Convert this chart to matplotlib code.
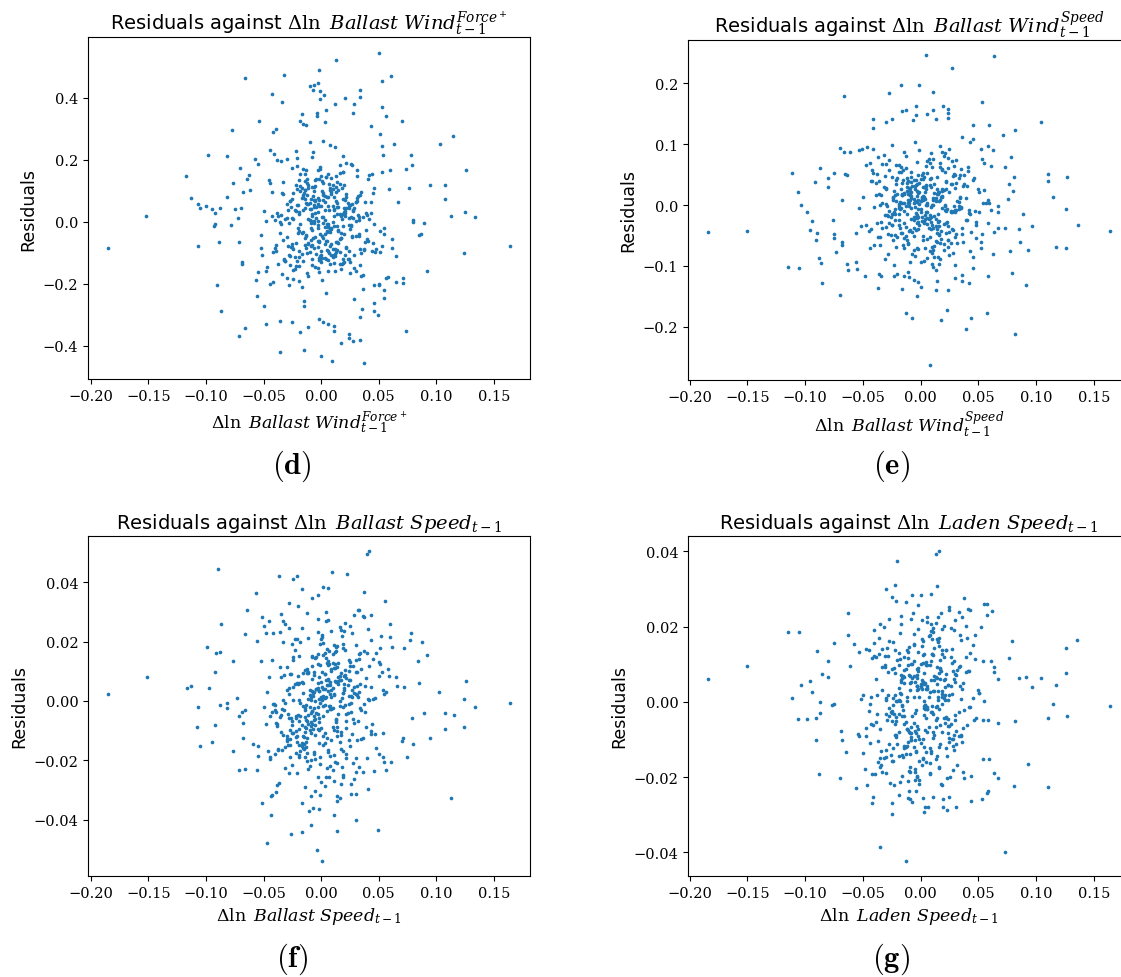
import matplotlib
matplotlib.use("Agg")
import matplotlib.pyplot as plt

# shared x positions for the middle of each cloud
x_core = [
    -0.003, 0.012, -0.018, 0.027, -0.007, 0.001, -0.031, 0.019, 0.006, -0.012,
    0.034, -0.022, 0.009, -0.001, 0.015, -0.040, 0.004, -0.015, 0.023, -0.009,
    0.041, -0.026, 0.002, 0.011, -0.005, 0.030, -0.019, 0.007, -0.035, 0.017,
    -0.011, 0.025, -0.002, 0.046, -0.028, 0.013, -0.008, 0.003, -0.044, 0.021,
    0.008, -0.016, 0.036, -0.004, 0.014, -0.024, 0.000, 0.029, -0.013, 0.005,
    -0.037, 0.018, -0.006, 0.039, -0.021, 0.010, -0.010, 0.024, -0.030, 0.002,
    0.051, -0.014, 0.016, -0.003, -0.048, 0.031, -0.017, 0.006, 0.020, -0.008,
    -0.025, 0.043, -0.001, 0.012, -0.033, 0.009, -0.012, 0.026, -0.005, 0.037,
    -0.020, 0.003, -0.042, 0.015, 0.000, -0.027, 0.022, -0.009, 0.033, -0.015,
    0.007, -0.052, 0.019, -0.004, 0.028, -0.023, 0.011, -0.007, 0.048, -0.018,
    0.004, -0.032, 0.014, -0.011, 0.035, -0.002, 0.021, -0.038, 0.008, -0.014,
    0.025, -0.006, 0.055, -0.029, 0.013, -0.001, 0.017, -0.045, 0.005, -0.019,
    0.032, -0.010, 0.001, 0.040, -0.024, 0.010, -0.036, 0.023, -0.003, 0.016,
    -0.016, 0.030, -0.008, 0.045, -0.026, 0.006, -0.012, 0.019, -0.056, 0.002,
    0.027, -0.021, 0.012, -0.005, 0.038, -0.034, 0.009, -0.013, 0.024, -0.002,
    -0.041, 0.015, -0.009, 0.050, -0.018, 0.004, 0.031, -0.028, 0.011, -0.006,
    0.020, -0.039, 0.007, -0.015, 0.042, -0.001, 0.018, -0.023, 0.026, -0.011,
    0.003, -0.047, 0.014, -0.004, 0.034, -0.020, 0.008, -0.031, 0.022, -0.007,
    0.058, -0.017, 0.001, 0.029, -0.025, 0.013, -0.010, 0.036, -0.043, 0.005,
    -0.014, 0.017, -0.003, 0.044, -0.030, 0.010, -0.008, 0.021, -0.019, 0.000,
    0.033, -0.035, 0.016, -0.005, 0.053, -0.022, 0.006, -0.012, 0.025, -0.050,
    0.009, -0.002,
]
# second set of shared x positions for the dense centre
x_core2 = [
    0.006, -0.017, 0.028, -0.003, 0.013, -0.031, 0.021, -0.009, 0.002, 0.037,
    -0.024, 0.010, -0.013, 0.031, -0.001, 0.016, -0.039, 0.004, -0.019, 0.024,
    0.000, -0.006, 0.034, -0.027, 0.011, -0.014, 0.019, -0.035, 0.003, 0.043,
    -0.008, 0.022, -0.021, 0.008, -0.003, 0.029, -0.016, 0.014, -0.030, 0.001,
    0.035, -0.011, 0.017, -0.024, 0.006, -0.038, 0.026, -0.005, 0.012, -0.018,
    0.040, -0.010, 0.003, -0.028, 0.020, -0.002, 0.032, -0.014, 0.009, -0.022,
    0.015, -0.044, 0.005, 0.027, -0.006, 0.019, -0.025, 0.001, 0.036, -0.012,
    0.008, -0.019, 0.024, -0.033, 0.014, -0.004, 0.047, -0.016, 0.003, -0.009,
    0.030, -0.022, 0.011, -0.002, 0.018, -0.040, 0.022, -0.008, 0.006, -0.027,
    0.042, -0.014, 0.002, 0.021, -0.019, 0.013, -0.032, 0.028, -0.003, 0.009,
    -0.011, 0.033, -0.024, 0.005, -0.017, 0.016, -0.006, 0.025, -0.036, 0.000,
    0.019, -0.013, 0.039, -0.021, 0.008, -0.003, 0.014, -0.029, 0.031, -0.009,
    0.003, -0.042, 0.022, -0.016, 0.011, -0.002, 0.027, -0.022, 0.017, -0.008,
    -0.030, 0.006, 0.045, -0.012, 0.020, -0.005, 0.013, -0.025, 0.002, 0.035,
    -0.017, 0.009, -0.006, 0.024, -0.033, 0.016, -0.011, 0.004, 0.030, -0.020,
    0.001, -0.014, 0.019, -0.037, 0.010, 0.026, -0.003, 0.014, -0.023, 0.038,
    -0.009, 0.002, -0.019, 0.029, -0.005, 0.017, -0.030, 0.008, 0.022, -0.013,
    0.051, -0.002, 0.011, -0.025, 0.003, -0.016, 0.033, -0.008, 0.020, -0.034,
    0.006, -0.021, 0.016, -0.011, 0.041, -0.003, 0.012, -0.027, 0.005, 0.024,
    -0.014, 0.010, -0.043, 0.019, -0.006, 0.030, -0.019, 0.002, -0.010, 0.015,
]

# panel (d): Ballast Wind Force+
d_core_y = [
    0.031, -0.112, 0.154, -0.046, 0.082, -0.187, 0.009, 0.213, -0.094, 0.058,
    -0.141, 0.117, -0.021, 0.176, -0.068, 0.004, -0.229, 0.093, -0.119, 0.042,
    0.139, -0.083, 0.261, -0.014, 0.066, -0.158, 0.024, -0.101, 0.195, -0.052,
    0.108, -0.129, 0.071, -0.006, -0.205, 0.147, -0.075, 0.037, 0.232, -0.108,
    -0.033, 0.086, -0.171, 0.012, 0.129, -0.089, 0.051, -0.248, 0.168, -0.061,
    0.019, -0.136, 0.098, -0.027, 0.205, -0.115, 0.061, -0.011, -0.182, 0.124,
    -0.097, 0.044, 0.183, -0.148, 0.002, 0.076, -0.212, 0.152, -0.039, 0.113,
    -0.071, 0.027, -0.125, 0.241, -0.058, 0.089, -0.164, 0.014, 0.135, -0.091,
    0.053, -0.018, -0.196, 0.102, -0.131, 0.067, 0.188, -0.079, 0.006, -0.271,
    0.121, -0.044, 0.161, -0.105, 0.034, -0.152, 0.079, 0.224, -0.087, -0.009,
    0.144, -0.119, 0.048, -0.176, 0.095, -0.064, 0.017, 0.198, -0.137, 0.072,
    -0.024, 0.112, -0.219, 0.039, -0.099, 0.171, -0.054, 0.133, -0.008, -0.143,
    0.083, 0.256, -0.116, 0.022, -0.185, 0.106, -0.036, 0.059, -0.082, 0.157,
    -0.126, 0.001, 0.209, -0.069, 0.046, -0.159, 0.126, -0.015, -0.238, 0.091,
    -0.048, 0.178, -0.103, 0.029, 0.063, -0.168, 0.141, -0.085, 0.011, -0.123,
    0.219, -0.031, 0.074, -0.201, 0.099, -0.062, 0.165, -0.004, -0.134, 0.054,
    0.118, -0.096, 0.036, -0.257, 0.149, -0.041, 0.008, -0.114, 0.187, -0.073,
    0.064, -0.146, 0.026, 0.137, -0.088, -0.019, 0.246, -0.127, 0.081, -0.052,
    -0.178, 0.109, 0.015, -0.109, 0.172, -0.066, 0.041, -0.216, 0.096, -0.029,
    0.131, -0.154, 0.057, -0.093, 0.202, -0.002, -0.121, 0.069, -0.191, 0.148,
    -0.047, 0.021, -0.138, 0.116, -0.077, 0.229, -0.013, 0.087, -0.165, 0.033,
    -0.106, 0.052,
]
d_core2_y = [
    0.052, -0.104, 0.013, -0.061, 0.097, -0.128, 0.034, -0.019, 0.071, -0.087,
    0.008, 0.118, -0.043, 0.066, -0.112, 0.025, -0.075, 0.143, -0.031, 0.049,
    -0.096, 0.003, 0.086, -0.139, 0.041, -0.052, 0.159, -0.008, -0.117, 0.062,
    0.019, -0.083, 0.106, -0.024, 0.077, -0.148, 0.038, -0.066, 0.011, 0.131,
    -0.101, 0.056, -0.037, 0.092, -0.124, 0.028, -0.013, 0.069, -0.089, 0.114,
    -0.056, 0.006, 0.083, -0.107, 0.045, -0.162, 0.022, 0.101, -0.071, 0.035,
    -0.026, 0.125, -0.092, 0.058, -0.004, -0.133, 0.074, -0.047, 0.016, 0.137,
    -0.079, 0.031, -0.119, 0.089, -0.015, 0.047, -0.098, 0.171, -0.039, 0.002,
    0.064, -0.143, 0.018, -0.063, 0.109, -0.084, 0.043, -0.028, 0.081, -0.111,
    0.009, 0.153, -0.053, 0.027, -0.093, 0.068, -0.122, 0.037, -0.011, 0.095,
    -0.068, 0.014, -0.155, 0.079, -0.035, 0.121, -0.086, 0.054, -0.002, -0.109,
    0.072, -0.045, 0.029, -0.127, 0.102, -0.021, 0.061, -0.078, 0.146, -0.058,
    0.004, -0.098, 0.088, -0.033, 0.039, -0.116, 0.183, -0.069, 0.021, -0.141,
    0.057, -0.007, 0.093, -0.102, 0.032, -0.049, 0.112, -0.081, 0.015, -0.176,
    0.076, -0.023, 0.048, -0.094, 0.129, -0.057, 0.007, -0.121, 0.063, -0.038,
    0.099, -0.074, 0.024, -0.135, 0.051, -0.012, 0.166, -0.091, 0.036, -0.064,
    -0.003, 0.085, -0.113, 0.043, -0.147, 0.018, -0.051, 0.107, -0.084, 0.059,
    -0.029, 0.139, -0.106, 0.011, -0.072, 0.078, -0.041, 0.026, -0.131, 0.091,
    -0.017, 0.055, -0.097, 0.118, -0.062, 0.001, -0.158, 0.067, -0.034, 0.044,
    0.103, -0.088, 0.017, -0.119, 0.071, -0.046, 0.133, -0.005, -0.099, 0.046,
]
d_out_x = [
    -0.185, -0.152, 0.164, -0.117, -0.113, -0.107, -0.107, -0.105, -0.100, -0.098,
    -0.095, -0.092, -0.092, -0.093, -0.089, -0.090, -0.087, -0.088, -0.082, -0.0815,
    -0.078, -0.077, -0.0766, -0.075, -0.072, -0.0716, -0.071, -0.070, -0.0696, -0.069,
    -0.069, -0.068, -0.066, -0.066, -0.0647, -0.0626, -0.062, -0.0577, -0.0566, -0.055,
    -0.055, -0.054, -0.052, -0.051, -0.050, -0.048, -0.048, -0.044, -0.0426, -0.042,
    -0.039, -0.036, -0.0357, -0.034, -0.032, -0.025, -0.018, -0.0186, -0.0165, -0.0157,
    -0.015, -0.0128, -0.011, -0.010, -0.0067, -0.0064, -0.0035, -0.0035, -0.0023, -0.002,
    -0.002, -0.0006, -0.0006, 0.000, 0.0017, 0.0029, 0.003, 0.0046, 0.006, 0.0099,
    0.011, 0.0116, 0.012, 0.0128, 0.017, 0.021, 0.024, 0.024, 0.0276, 0.028,
    0.029, 0.034, 0.034, 0.034, 0.034, 0.0357, 0.037, 0.043, 0.044, 0.046,
    0.046, 0.046, 0.046, 0.049, 0.050, 0.0505, 0.0516, 0.0525, 0.053, 0.053,
    0.053, 0.054, 0.055, 0.055, 0.055, 0.056, 0.056, 0.0586, 0.0595, 0.0606,
    0.062, 0.062, 0.063, 0.065, 0.065, 0.067, 0.070, 0.071, 0.071, 0.0737,
    0.074, 0.076, 0.0777, 0.079, 0.080, 0.080, 0.085, 0.087, 0.089, 0.092,
    0.095, 0.103, 0.108, 0.108, 0.113, 0.115, 0.124, 0.125, 0.126, 0.134,
]
d_out_y = [
    -0.085, 0.018, -0.079, 0.147, 0.077, 0.058, -0.080, 0.044, 0.049, 0.214,
    0.041, 0.028, -0.008, -0.015, -0.065, -0.204, -0.287, 0.044, 0.212, 0.081,
    -0.011, 0.294, 0.124, 0.041, 0.013, -0.066, -0.369, 0.173, 0.045, -0.129,
    -0.136, 0.096, 0.462, -0.342, 0.137, 0.150, 0.102, 0.203, -0.188, 0.185,
    -0.162, 0.325, -0.086, -0.107, -0.273, -0.158, -0.330, -0.200, 0.411, 0.289,
    0.297, -0.321, -0.420, 0.387, 0.473, -0.324, -0.357, 0.324, 0.346, 0.315,
    -0.414, 0.312, -0.338, 0.437, 0.424, 0.440, 0.351, 0.340, 0.446, 0.489,
    -0.314, 0.421, 0.395, -0.434, -0.324, 0.408, 0.322, 0.361, -0.331, -0.449,
    -0.353, -0.335, 0.379, 0.521, -0.392, 0.397, -0.374, -0.363, 0.351, -0.385,
    0.378, 0.424, 0.401, -0.380, -0.308, -0.283, -0.457, 0.308, 0.154, 0.110,
    -0.204, -0.262, -0.287, -0.300, -0.204, 0.545, 0.284, 0.159, 0.453, 0.369,
    0.244, 0.216, -0.020, -0.039, -0.245, 0.340, -0.180, 0.106, 0.165, 0.468,
    -0.084, -0.055, 0.249, -0.111, -0.196, 0.063, 0.323, -0.182, -0.197, -0.353,
    0.170, 0.107, 0.215, 0.184, 0.004, -0.001, -0.042, -0.040, -0.005, -0.160,
    0.119, 0.250, 0.117, 0.072, 0.018, 0.275, -0.101, 0.031, 0.166, 0.014,
]

# panel (e): Ballast Wind Speed
e_core_y = [
    -0.021, 0.034, -0.006, 0.072, -0.044, 0.011, -0.089, 0.027, 0.003, -0.058,
    0.049, -0.015, 0.086, -0.033, 0.019, -0.003, -0.071, 0.041, -0.027, 0.008,
    0.063, -0.049, 0.014, -0.102, 0.031, -0.011, 0.055, -0.038, 0.001, 0.097,
    -0.064, 0.022, -0.019, 0.045, -0.081, 0.006, 0.038, -0.029, 0.069, -0.008,
    -0.052, 0.017, 0.112, -0.041, 0.026, -0.014, -0.094, 0.051, -0.002, 0.033,
    0.079, -0.056, 0.010, -0.024, 0.042, -0.069, 0.004, 0.061, -0.036, 0.015,
    -0.012, 0.088, -0.047, 0.024, -0.117, 0.036, -0.005, 0.053, -0.031, 0.012,
    0.046, -0.076, 0.002, -0.018, 0.067, -0.040, 0.029, -0.009, 0.104, -0.061,
    0.019, -0.026, 0.039, -0.085, 0.007, 0.057, -0.045, 0.016, -0.001, -0.066,
    0.075, -0.034, 0.023, -0.013, 0.048, -0.099, 0.011, 0.032, -0.054, 0.005,
    -0.023, 0.083, -0.039, 0.018, 0.060, -0.072, 0.001, -0.030, 0.043, -0.010,
    0.092, -0.050, 0.025, -0.017, -0.107, 0.037, 0.009, -0.043, 0.064, -0.004,
    -0.062, 0.028, 0.050, -0.025, 0.013, -0.078, 0.040, -0.007, 0.071, -0.035,
    0.003, -0.052, 0.021, 0.108, -0.020, -0.087, 0.044, 0.014, -0.046, 0.030,
    -0.011, 0.066, -0.067, 0.006, 0.035, -0.028, -0.003, 0.081, -0.057, 0.020,
    0.052, -0.015, -0.093, 0.027, -0.037, 0.010, 0.074, -0.048, 0.000, 0.041,
    -0.074, 0.017, -0.022, 0.058, -0.008, 0.090, -0.042, 0.024, -0.063, 0.004,
    0.047, -0.032, -0.125, 0.033, 0.012, -0.053, 0.069, -0.016, 0.026, -0.080,
    0.008, 0.055, -0.026, -0.002, 0.099, -0.059, 0.019, -0.038, 0.039, -0.012,
    -0.070, 0.062, 0.005, -0.044, 0.028, -0.096, 0.015, 0.085, -0.033, -0.006,
    0.045, -0.065, 0.022, -0.019, 0.076, -0.049, 0.001, 0.036, -0.082, 0.013,
    -0.028, 0.050,
]
e_core2_y = [
    -0.012, 0.027, -0.041, 0.005, -0.023, 0.048, -0.002, 0.016, -0.058, 0.031,
    0.009, -0.033, 0.061, -0.008, 0.021, -0.049, 0.037, -0.016, 0.002, -0.069,
    0.043, -0.025, 0.013, 0.074, -0.037, 0.019, -0.005, -0.052, 0.029, -0.014,
    0.055, -0.029, 0.006, -0.076, 0.034, -0.009, 0.018, -0.045, 0.067, -0.020,
    -0.003, 0.039, -0.063, 0.011, -0.031, 0.051, -0.011, 0.026, -0.085, 0.004,
    0.032, -0.043, 0.014, -0.018, 0.081, -0.027, 0.007, -0.054, 0.045, -0.006,
    0.022, -0.071, 0.001, 0.035, -0.038, 0.058, -0.015, 0.010, -0.047, 0.024,
    -0.021, 0.066, -0.034, 0.003, -0.060, 0.041, -0.010, 0.017, -0.092, 0.028,
    0.049, -0.024, 0.008, -0.039, 0.013, -0.066, 0.038, -0.004, 0.072, -0.030,
    -0.013, 0.020, -0.050, 0.054, -0.001, -0.035, 0.030, -0.079, 0.015, -0.019,
    0.040, -0.007, -0.057, 0.026, 0.063, -0.026, 0.004, -0.044, 0.019, -0.011,
    0.088, -0.036, 0.012, -0.068, 0.033, -0.017, 0.046, -0.002, -0.048, 0.023,
    -0.028, 0.057, -0.009, 0.036, -0.074, 0.009, -0.040, 0.016, 0.069, -0.022,
    0.002, -0.056, 0.042, -0.014, 0.025, -0.083, 0.011, -0.032, 0.052, -0.005,
    -0.046, 0.030, -0.019, 0.078, -0.037, 0.006, -0.062, 0.021, -0.008, 0.044,
    0.014, -0.029, 0.060, -0.053, 0.001, 0.034, -0.070, 0.018, -0.012, 0.050,
    -0.041, 0.009, -0.024, 0.065, -0.003, -0.088, 0.027, -0.016, 0.039, -0.051,
    0.022, -0.006, 0.076, -0.033, 0.012, -0.045, 0.005, 0.047, -0.064, 0.017,
    -0.021, 0.035, -0.097, 0.008, 0.056, -0.030, 0.020, -0.010, 0.031, -0.058,
    0.003, 0.062, -0.039, 0.015, -0.073, 0.028, -0.015, 0.043, -0.002, -0.027,
]
e_out_x = [
    -0.184, -0.150, -0.115, -0.105, -0.111, -0.106, -0.1035, -0.098, -0.0937, -0.096,
    -0.0908, -0.0896, -0.088, -0.086, -0.0853, -0.0867, -0.091, -0.080, -0.080, -0.075,
    -0.076, -0.075, -0.075, -0.0696, -0.073, -0.068, -0.0676, -0.070, -0.0667, -0.061,
    -0.066, -0.0655, -0.064, -0.068, -0.064, -0.063, -0.056, -0.055, -0.037, -0.036,
    -0.0345, -0.027, -0.0165, -0.001, 0.0046, 0.0104, 0.027, 0.064, 0.053, 0.104,
    0.0716, 0.082, 0.059, 0.0455, 0.063, 0.058, 0.052, 0.0786, 0.0734, 0.0806,
    0.080, 0.110, 0.110, 0.127, 0.115, 0.136, 0.164, 0.126, 0.126, 0.117,
    0.0966, 0.089, 0.0856, 0.0934, 0.0864, 0.0777, 0.0795, 0.091, 0.0635, 0.063,
    0.067, 0.073, 0.0757, 0.0763, 0.058, 0.082, 0.0574, 0.044, 0.039, 0.023,
    0.018, -0.0073, -0.0125, 0.008, 0.042, 0.0357, 0.0357, 0.030, 0.030, 0.0455,
    0.0455, 0.052, 0.052, 0.048, 0.048, 0.054, 0.057, 0.059, 0.061, 0.067,
    0.067, 0.058, 0.053, 0.055, 0.061, 0.043, 0.0235, 0.0235, 0.0235, 0.0194,
    -0.004, -0.004, -0.0128, -0.041, -0.041, -0.025, -0.030, -0.046, -0.0415, -0.051,
    -0.053, -0.047, -0.053, -0.023, -0.020, -0.014, -0.011, -0.0096, -0.0055, -0.0026,
    0.0003, -0.0032, -0.0157, 0.013, 0.024, -0.0162, -0.0067, 0.006, 0.0104, 0.0136,
]
e_out_y = [
    -0.0436, -0.0425, -0.101, -0.104, 0.0535, 0.0215, -0.0006, -0.011, -0.0254, -0.041,
    -0.057, -0.046, -0.087, -0.095, -0.1275, 0.0607, 0.0375, 0.044, 0.030, 0.0535,
    -0.025, -0.054, -0.048, -0.148, -0.077, -0.061, -0.066, 0.094, 0.088, 0.087,
    0.179, 0.051, 0.050, 0.008, -0.097, -0.106, -0.093, -0.105, -0.137, -0.113,
    -0.117, 0.184, 0.198, 0.198, 0.246, 0.186, 0.226, 0.245, 0.170, 0.137,
    0.115, 0.123, 0.131, 0.131, 0.091, 0.098, 0.092, 0.079, 0.063, 0.047,
    0.024, 0.051, 0.040, 0.046, 0.014, -0.032, -0.043, -0.006, -0.071, -0.0695,
    -0.034, -0.015, -0.040, -0.073, -0.061, -0.0756, -0.111, -0.131, -0.044, -0.0795,
    -0.0375, -0.0375, 0.010, 0.034, -0.116, -0.211, -0.178, -0.185, -0.204, -0.172,
    -0.189, -0.185, -0.177, -0.262, -0.128, -0.125, -0.115, -0.119, -0.099, -0.103,
    -0.086, -0.071, -0.061, -0.033, -0.027, 0.004, 0.003, 0.004, -0.008, -0.001,
    -0.012, -0.029, -0.047, 0.0695, 0.065, 0.104, 0.158, 0.151, 0.143, 0.163,
    0.163, 0.148, 0.156, 0.141, 0.127, 0.141, 0.137, 0.095, 0.093, 0.093,
    0.090, 0.066, -0.005, -0.116, -0.113, -0.117, -0.110, -0.118, -0.123, -0.126,
    -0.135, -0.150, -0.138, -0.139, -0.140, 0.155, 0.140, 0.149, 0.157, 0.141,
]

# panel (f): Ballast Speed
f_core_y = [
    -0.0043, 0.0112, -0.0168, 0.0036, -0.0094, 0.0221, -0.0007, -0.0257, 0.0074, -0.0125,
    0.0163, -0.0058, 0.0014, -0.0213, 0.0129, -0.0031, 0.0268, -0.0146, 0.0052, -0.0083,
    -0.0296, 0.0091, -0.0018, 0.0187, -0.0114, 0.0025, -0.0182, 0.0123, -0.0047, 0.0239,
    0.0006, -0.0153, 0.0081, -0.0236, 0.0044, -0.0072, 0.0148, -0.0012, -0.0194, 0.0104,
    0.0063, -0.0117, 0.0286, -0.0039, -0.0102, 0.0137, -0.0273, 0.0028, -0.0064, 0.0176,
    -0.0161, 0.0011, 0.0098, -0.0088, 0.0209, -0.0024, -0.0218, 0.0069, -0.0134, 0.0041,
    0.0126, -0.0054, -0.0327, 0.0158, -0.0079, 0.0019, 0.0247, -0.0172, 0.0085, -0.0033,
    -0.0107, 0.0048, 0.0193, -0.0204, 0.0003, 0.0108, -0.0068, -0.0281, 0.0144, -0.0009,
    0.0057, -0.0141, 0.0229, -0.0045, -0.0092, 0.0089, -0.0177, 0.0013, 0.0306, -0.0121,
    -0.0016, 0.0133, -0.0248, 0.0039, -0.0061, 0.0171, -0.0098, 0.0027, -0.0157, 0.0197,
    0.0072, -0.0029, -0.0209, 0.0096, -0.0128, 0.0008, 0.0262, -0.0076, 0.0053, -0.0289,
    0.0118, -0.0051, 0.0022, -0.0149, 0.0183, -0.0006, -0.0113, 0.0079, -0.0227, 0.0152,
    -0.0066, 0.0037, 0.0216, -0.0191, 0.0002, -0.0087, 0.0114, -0.0042, 0.0277, -0.0138,
    0.0061, -0.0312, 0.0034, 0.0141, -0.0057, -0.0166, 0.0093, -0.0021, 0.0203, -0.0119,
    0.0012, -0.0243, 0.0164, -0.0081, 0.0049, -0.0027, 0.0236, -0.0154, 0.0102, -0.0097,
    -0.0011, 0.0068, -0.0198, 0.0131, -0.0049, 0.0298, -0.0132, 0.0024, -0.0268, 0.0087,
    0.0043, -0.0074, 0.0169, -0.0163, 0.0004, 0.0121, -0.0223, 0.0058, -0.0038, 0.0212,
    -0.0109, 0.0031, -0.0336, 0.0147, -0.0023, 0.0083, -0.0184, 0.0258, -0.0091, 0.0015,
    0.0106, -0.0143, 0.0047, -0.0262, 0.0191, -0.0063, 0.0021, -0.0124, 0.0139, -0.0034,
    -0.0187, 0.0094, 0.0233, -0.0078, 0.0038, -0.0231, 0.0117, -0.0014, -0.0148, 0.0064,
    0.0157, -0.0103, 0.0001, -0.0302, 0.0099, -0.0052, 0.0271, -0.0174, 0.0071, -0.0019,
    -0.0131, 0.0032,
]
f_core2_y = [
    0.0034, -0.0082, 0.0117, -0.0021, 0.0063, -0.0154, 0.0088, 0.0004, -0.0051, 0.0169,
    -0.0108, 0.0042, -0.0013, 0.0097, -0.0187, 0.0071, -0.0036, 0.0143, -0.0093, 0.0018,
    0.0208, -0.0064, 0.0056, -0.0129, 0.0112, -0.0024, -0.0168, 0.0079, 0.0009, -0.0101,
    0.0152, -0.0044, 0.0061, -0.0219, 0.0124, -0.0073, 0.0027, 0.0186, -0.0118, 0.0002,
    -0.0031, 0.0093, -0.0161, 0.0048, 0.0134, -0.0084, 0.0017, -0.0197, 0.0068, -0.0008,
    0.0163, -0.0097, 0.0039, -0.0058, 0.0237, -0.0142, 0.0012, 0.0103, -0.0027, -0.0176,
    0.0082, -0.0049, 0.0128, -0.0112, 0.0029, 0.0179, -0.0068, 0.0006, -0.0238, 0.0107,
    -0.0017, 0.0059, -0.0133, 0.0198, -0.0088, 0.0041, 0.0011, -0.0158, 0.0092, -0.0039,
    0.0139, -0.0121, 0.0023, -0.0071, 0.0218, -0.0012, -0.0193, 0.0074, 0.0052, -0.0098,
    0.0119, -0.0029, -0.0147, 0.0172, 0.0003, -0.0061, 0.0087, -0.0208, 0.0044, 0.0101,
    -0.0079, 0.0031, 0.0148, -0.0123, 0.0064, -0.0018, -0.0171, 0.0131, -0.0053, 0.0013,
    0.0192, -0.0091, 0.0077, -0.0139, 0.0022, -0.0256, 0.0114, -0.0043, 0.0049, -0.0107,
    0.0161, -0.0009, -0.0069, 0.0094, -0.0182, 0.0033, 0.0227, -0.0102, 0.0072, -0.0034,
    -0.0127, 0.0121, 0.0005, -0.0201, 0.0058, -0.0062, 0.0168, -0.0081, 0.0016, 0.0109,
    -0.0152, 0.0038, -0.0024, 0.0137, -0.0113, 0.0083, -0.0229, 0.0014, 0.0188, -0.0048,
    0.0098, -0.0089, 0.0026, -0.0164, 0.0127, -0.0007, 0.0061, -0.0118, 0.0207, -0.0037,
    -0.0072, 0.0153, -0.0189, 0.0047, 0.0001, -0.0104, 0.0113, -0.0026, 0.0078, -0.0138,
    0.0177, -0.0057, 0.0019, -0.0217, 0.0091, -0.0016, 0.0142, -0.0077, 0.0036, -0.0166,
    0.0069, -0.0119, 0.0248, -0.0046, 0.0008, -0.0093, 0.0124, -0.0149, 0.0054, -0.0011,
    -0.0106, 0.0159, -0.0038, 0.0028, -0.0178, 0.0097, -0.0066, 0.0196, -0.0022, 0.0057,
]
f_out_x = [
    -0.185, -0.1516, 0.164, -0.0898, -0.1168, -0.113, -0.107, -0.1075, -0.1055, -0.0977,
    -0.0994, -0.0925, -0.091, -0.088, -0.0867, -0.088, -0.082, -0.082, -0.0924, -0.095,
    -0.0768, -0.0768, -0.0716, -0.066, -0.0556, -0.073, -0.0713, -0.0687, -0.0663, -0.068,
    -0.068, -0.0646, -0.0663, -0.0562, -0.059, -0.055, -0.0516, -0.047, -0.0437, -0.0365,
    -0.0246, -0.0208, -0.0168, -0.0075, -0.003, 0.0018, 0.0064, 0.0093, 0.0224, 0.040,
    0.0418, 0.0375, 0.0557, 0.0595, 0.0778, 0.077, 0.0874, 0.0917, 0.072, 0.0839,
    0.126, 0.1245, 0.134, 0.1027, 0.108, 0.1155, 0.108, 0.1245, 0.0946, 0.113,
    0.0891, 0.080, 0.070, 0.0715, 0.0746, 0.0656, 0.072, 0.085, 0.079, 0.0563,
    0.0604, 0.055, 0.049, 0.0302, 0.0134, 0.011, 0.0006, -0.0034, -0.0086, -0.017,
    -0.0263, -0.0107, -0.0069, -0.0014, -0.0168, 0.0256, -0.0365, -0.038, -0.0394, -0.0426,
    -0.0516, -0.045, -0.050, -0.048, -0.0347, -0.0335, -0.028, -0.0197, -0.036, -0.028,
    0.0317, 0.0372, 0.043, 0.041, 0.0436, 0.0523, 0.060, 0.0613, 0.0477, 0.0506,
    0.059, 0.065, 0.0535, 0.0566, 0.0436, 0.0467, 0.0535, 0.0506, 0.054, 0.0305,
    0.0326, 0.030, -0.055, -0.046, -0.040, -0.044, -0.027, -0.031, -0.0275, -0.0437,
    -0.0086, -0.0011, 0.003, 0.004, 0.007, 0.0175, 0.0134, 0.0285, 0.0252, -0.0125,
]
f_out_y = [
    0.0024, 0.0080, -0.0008, 0.0444, 0.0043, 0.0049, -0.0022, -0.0089, -0.0151, 0.0044,
    0.0180, 0.0099, 0.0162, 0.0165, 0.0259, -0.0014, -0.0006, -0.0024, -0.0082, -0.0139,
    0.0134, -0.0169, -0.0233, -0.0230, -0.0231, 0.0010, -0.0050, -0.0037, -0.0030, -0.0073,
    -0.0123, 0.0305, 0.0226, 0.0364, -0.0144, -0.0186, -0.0342, -0.0479, -0.0383, 0.0419,
    0.0409, 0.0422, 0.0377, 0.0348, 0.0357, 0.0384, 0.0379, 0.0435, 0.0428, 0.0493,
    0.0503, 0.0365, 0.0336, 0.0260, 0.0230, 0.0204, 0.0200, 0.0153, 0.0179, 0.0134,
    0.0066, 0.0007, -0.0022, 0.0030, -0.0042, -0.0046, -0.0096, -0.0088, -0.0123, -0.0325,
    -0.0042, -0.0144, -0.0134, -0.0125, -0.0189, 0.0049, 0.0046, 0.0060, -0.0058, -0.0232,
    -0.0205, -0.0205, -0.0434, -0.0401, -0.0438, -0.0384, -0.0537, -0.0501, -0.0417, -0.0442,
    -0.0446, -0.0371, -0.0361, -0.0365, -0.0343, -0.0313, -0.0276, -0.0282, -0.0308, -0.0318,
    0.0284, 0.0270, 0.0253, 0.0227, 0.0292, 0.0269, 0.0328, 0.0318, 0.0232, 0.0247,
    0.0307, 0.0283, 0.0288, 0.0243, 0.0206, 0.0217, 0.0214, 0.0181, 0.0162, 0.0083,
    0.0085, 0.0079, 0.0037, 0.0029, -0.0111, -0.0111, -0.0107, -0.0179, -0.0188, -0.0192,
    -0.0223, -0.0240, -0.0152, -0.0168, -0.0177, -0.0188, -0.0188, -0.0226, -0.0241, -0.0319,
    -0.0321, -0.0315, -0.0286, -0.0257, -0.0255, -0.0280, -0.0321, 0.0290, 0.0251, 0.0296,
]

# panel (g): Laden Speed
g_core_y = [
    0.0063, -0.0087, 0.0024, 0.0141, -0.0038, -0.0168, 0.0092, -0.0006, 0.0213, -0.0117,
    0.0041, -0.0059, 0.0108, -0.0219, 0.0013, 0.0157, -0.0076, 0.0069, -0.0143, 0.0032,
    0.0248, -0.0027, -0.0098, 0.0124, -0.0187, 0.0054, 0.0004, 0.0176, -0.0071, 0.0088,
    -0.0256, 0.0019, 0.0133, -0.0048, 0.0079, -0.0152, 0.0221, -0.0016, -0.0109, 0.0061,
    0.0097, -0.0196, 0.0034, -0.0083, 0.0168, -0.0009, 0.0047, -0.0128, 0.0266, -0.0042,
    -0.0161, 0.0081, 0.0012, 0.0119, -0.0093, 0.0189, -0.0237, 0.0044, -0.0031, 0.0103,
    0.0023, -0.0122, 0.0148, -0.0063, -0.0179, 0.0072, 0.0228, -0.0014, 0.0058, -0.0101,
    -0.0052, 0.0131, -0.0208, 0.0028, 0.0094, -0.0137, 0.0003, 0.0197, -0.0078, 0.0049,
    0.0112, -0.0034, -0.0268, 0.0162, 0.0039, -0.0113, 0.0074, -0.0172, 0.0238, -0.0021,
    -0.0068, 0.0008, 0.0139, -0.0132, 0.0083, -0.0221, 0.0029, 0.0101, -0.0044, 0.0184,
    0.0051, -0.0149, -0.0012, 0.0117, -0.0091, 0.0257, -0.0057, 0.0018, -0.0191, 0.0067,
    -0.0108, 0.0153, 0.0002, -0.0049, 0.0209, -0.0158, 0.0062, -0.0024, 0.0107, -0.0247,
    0.0086, -0.0079, 0.0033, 0.0171, -0.0124, -0.0011, 0.0128, -0.0203, 0.0042, 0.0078,
    -0.0037, 0.0218, -0.0102, 0.0009, -0.0141, 0.0098, -0.0073, 0.0193, -0.0228, 0.0053,
    0.0021, -0.0088, 0.0143, -0.0029, 0.0276, -0.0167, 0.0059, -0.0119, 0.0004, 0.0091,
    -0.0061, 0.0158, -0.0186, 0.0031, 0.0114, -0.0018, -0.0279, 0.0122, -0.0081, 0.0068,
    0.0202, -0.0053, 0.0014, -0.0147, 0.0082, -0.0098, 0.0236, -0.0033, 0.0043, -0.0211,
    0.0127, -0.0069, 0.0048, -0.0134, 0.0179, 0.0001, -0.0162, 0.0097, -0.0042, 0.0063,
    -0.0238, 0.0022, 0.0148, -0.0089, 0.0087, -0.0013, -0.0183, 0.0227, -0.0058, 0.0034,
    0.0118, -0.0111, 0.0071, -0.0198, 0.0011, 0.0166, -0.0082, 0.0039, -0.0143, 0.0102,
    -0.0028, 0.0207, -0.0121, 0.0052, -0.0259, 0.0076, -0.0019, 0.0138, -0.0097, 0.0017,
    0.0188, -0.0072,
]
g_core2_y = [
    -0.0018, 0.0072, -0.0098, 0.0031, -0.0047, 0.0123, 0.0004, -0.0138, 0.0053, -0.0069,
    0.0158, -0.0026, 0.0087, -0.0112, 0.0013, -0.0176, 0.0061, -0.0008, 0.0129, -0.0083,
    0.0042, -0.0119, 0.0096, -0.0037, 0.0187, -0.0058, 0.0022, -0.0149, 0.0078, -0.0014,
    -0.0093, 0.0137, -0.0051, 0.0027, -0.0198, 0.0109, -0.0011, 0.0063, -0.0128, 0.0168,
    0.0008, -0.0074, 0.0091, -0.0157, 0.0038, -0.0033, 0.0118, -0.0102, 0.0069, 0.0002,
    -0.0062, 0.0147, -0.0121, 0.0017, -0.0043, 0.0082, -0.0169, 0.0049, 0.0207, -0.0088,
    0.0029, -0.0007, -0.0133, 0.0104, -0.0057, 0.0127, -0.0029, 0.0058, -0.0107, 0.0012,
    0.0178, -0.0079, 0.0044, -0.0187, 0.0093, -0.0022, 0.0113, -0.0142, 0.0003, 0.0068,
    -0.0048, 0.0139, -0.0097, 0.0033, -0.0218, 0.0121, -0.0039, 0.0054, -0.0081, 0.0162,
    -0.0013, 0.0084, -0.0148, 0.0019, 0.0098, -0.0067, 0.0198, -0.0118, 0.0041, -0.0027,
    0.0132, -0.0092, 0.0009, -0.0161, 0.0057, -0.0019, 0.0108, -0.0063, 0.0171, -0.0109,
    0.0028, -0.0138, 0.0079, 0.0001, -0.0189, 0.0088, -0.0042, 0.0143, -0.0077, 0.0049,
    -0.0012, 0.0117, -0.0123, 0.0064, -0.0032, 0.0193, -0.0099, 0.0018, -0.0061, 0.0102,
    -0.0147, 0.0043, 0.0152, -0.0071, 0.0011, -0.0209, 0.0067, -0.0023, 0.0124, -0.0087,
    0.0052, -0.0131, 0.0181, -0.0046, 0.0032, -0.0172, 0.0097, -0.0009, 0.0073, -0.0113,
    0.0217, -0.0038, 0.0014, -0.0103, 0.0128, -0.0059, 0.0043, -0.0144, 0.0089, -0.0021,
    -0.0083, 0.0163, -0.0031, 0.0062, -0.0179, 0.0112, 0.0006, -0.0124, 0.0138, -0.0053,
    0.0024, -0.0092, 0.0196, -0.0158, 0.0048, -0.0008, 0.0093, -0.0068, 0.0119, -0.0131,
    0.0034, -0.0041, 0.0169, -0.0108, 0.0081, -0.0201, 0.0059, -0.0017, 0.0099, -0.0063,
    -0.0117, 0.0128, 0.0013, -0.0079, 0.0151, -0.0034, 0.0038, -0.0153, 0.0071, 0.0004,
]
g_out_x = [
    -0.184, -0.150, 0.164, -0.115, -0.105, -0.111, -0.106, -0.1035, -0.098, -0.096,
    -0.0937, -0.0908, -0.0908, -0.0896, -0.088, -0.0867, -0.0867, -0.0853, -0.080, -0.080,
    -0.075, -0.070, -0.0687, -0.0676, -0.0647, -0.0626, -0.0629, -0.0763, -0.075, -0.061,
    -0.0577, -0.0415, -0.0348, -0.0122, -0.0246, -0.0246, -0.0467, -0.042, -0.0394, -0.030,
    -0.0217, -0.0206, -0.0244, -0.0212, -0.0073, 0.000, 0.009, 0.0133, 0.0162, 0.0142,
    0.0244, 0.0244, 0.043, 0.0548, 0.0574, 0.0577, 0.0618, 0.052, 0.039, 0.047,
    0.035, 0.079, 0.1357, 0.1264, 0.1264, 0.1047, 0.0966, 0.117, 0.1145, 0.110,
    0.127, 0.091, 0.0856, 0.082, 0.0934, 0.081, 0.110, 0.0734, 0.0667, 0.0632,
    0.0542, 0.0595, 0.0577, 0.0435, 0.0673, 0.0763, 0.067, 0.0545, 0.061, 0.0638,
    0.0638, 0.058, 0.054, 0.025, 0.0194, 0.0226, 0.0194, 0.002, 0.0038, 0.0067,
    0.0026, -0.009, -0.0078, -0.0038, -0.050, -0.047, -0.054, -0.053, -0.040, -0.053,
    -0.045, -0.047, 0.0104, 0.0186, 0.0255, -0.035, -0.0296, -0.0267, -0.018, 0.0368,
    0.038, 0.0284, -0.027, -0.017, -0.0064, 0.006, 0.0148, 0.0293, -0.0385, -0.033,
]
g_out_y = [
    0.0062, 0.0095, -0.0010, 0.0186, 0.0187, 0.0011, -0.0046, 0.0044, -0.0046, 0.0056,
    0.0026, -0.0043, -0.0101, 0.0135, -0.0192, 0.0000, -0.0029, 0.0073, 0.0109, 0.0067,
    0.0157, -0.0202, -0.0077, -0.0102, -0.0134, 0.0236, 0.0177, -0.0008, -0.0006, 0.0096,
    0.0153, -0.0253, -0.0385, -0.0422, -0.0268, -0.0299, -0.0222, -0.0193, -0.0193, 0.0300,
    0.0312, 0.0374, 0.0280, 0.0268, 0.0283, 0.0284, 0.0286, 0.0392, 0.0400, 0.0309,
    0.0252, 0.0243, 0.0244, 0.0261, 0.0260, 0.0231, 0.0242, 0.0198, 0.0203, 0.0178,
    0.0165, 0.0162, 0.0164, 0.0144, 0.0077, 0.0064, 0.0040, 0.0046, -0.0007, -0.0044,
    -0.0038, 0.0067, 0.0064, -0.0051, -0.0166, -0.0225, -0.0226, -0.0398, -0.0202, -0.0189,
    -0.0151, -0.0153, -0.0243, -0.0263, -0.0056, 0.0116, 0.0061, 0.0108, 0.0108, 0.0080,
    0.0094, -0.0047, -0.0047, -0.0253, -0.0257, -0.0287, -0.0280, -0.0256, -0.0279, -0.0279,
    -0.0294, -0.0258, -0.0267, -0.0236, -0.0135, -0.0090, -0.0086, -0.0091, 0.0190, 0.0133,
    0.0138, 0.0140, -0.0252, -0.0220, -0.0200, -0.0174, -0.0190, -0.0216, -0.0213, -0.0186,
    -0.0203, -0.0180, 0.0220, 0.0208, 0.0236, 0.0227, 0.0226, 0.0192, 0.0120, 0.0140,
]

names = [
    r"\Delta\ln\ Ballast\ Wind^{Force^+}_{t-1}",
    r"\Delta\ln\ Ballast\ Wind^{Speed}_{t-1}",
    r"\Delta\ln\ Ballast\ Speed_{t-1}",
    r"\Delta\ln\ Laden\ Speed_{t-1}",
]
captions = ["(d)", "(e)", "(f)", "(g)"]

plt.rcParams["font.family"] = "DejaVu Serif"
plt.rcParams["mathtext.fontset"] = "dejavuserif"

W, H = 1121, 978
fig = plt.figure(figsize=(W / 100, H / 100), dpi=100)

# axes boxes in pixels: left, top, width, height (right column runs past the edge)
boxes = [(88, 38, 442, 342), (688, 41, 442, 340), (88, 537, 442, 340), (688, 537, 442, 340)]
cap_pos = [(292, 466), (891, 466), (292, 959), (891, 959)]

panels = [
    (d_out_x, d_out_y, d_core_y, d_core2_y),
    (e_out_x, e_out_y, e_core_y, e_core2_y),
    (f_out_x, f_out_y, f_core_y, f_core2_y),
    (g_out_x, g_out_y, g_core_y, g_core2_y),
]

for i, (ox, oy, cy, cy2) in enumerate(panels):
    l, t, w, h = boxes[i]
    ax = fig.add_axes([l / W, 1 - (t + h) / H, w / W, h / H])
    n1 = min(len(x_core), len(cy))
    n2 = min(len(x_core2), len(cy2))
    xs = list(ox) + x_core[:n1] + x_core2[:n2]
    ys = list(oy) + cy[:n1] + cy2[:n2]
    ax.scatter(xs, ys, s=7, color="#1f77b4", linewidths=0)
    ax.set_title("Residuals against $" + names[i] + "$", fontsize=14,
                 fontfamily="DejaVu Sans")
    ax.set_xlabel("$" + names[i] + "$", fontsize=12.5)
    ax.set_ylabel("Residuals", fontsize=12.5, fontfamily="DejaVu Sans")
    ax.tick_params(labelsize=10.5)
    cx, cyy = cap_pos[i]
    fig.text(cx / W, 1 - cyy / H, r"$\mathbf{" + captions[i] + "}$",
             math_fontfamily="cm", fontsize=22, ha="center", va="center")

fig.savefig("out.png", dpi=100)
